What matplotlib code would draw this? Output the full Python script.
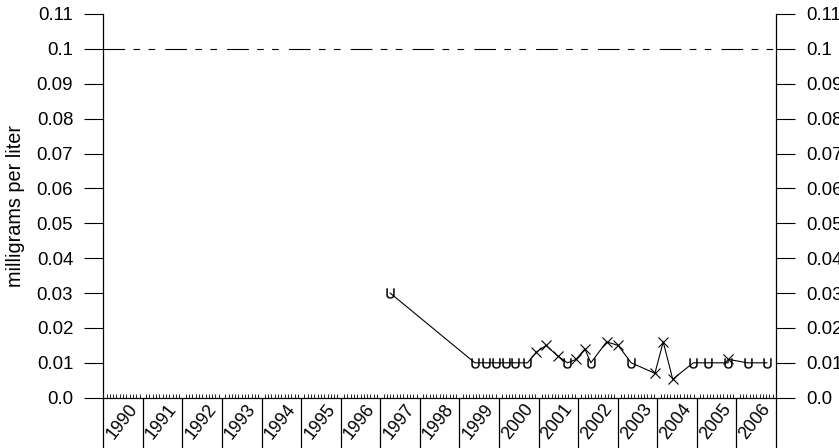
import matplotlib
matplotlib.use('Agg')
import matplotlib.pyplot as plt
import numpy as np
from matplotlib.ticker import FixedLocator

plt.rcParams['font.family'] = ['Liberation Sans', 'DejaVu Sans']
plt.rcParams['mathtext.fontset'] = 'custom'
plt.rcParams['mathtext.sf'] = 'Liberation Sans'
plt.rcParams['mathtext.rm'] = 'Liberation Sans'
plt.rcParams['lines.scale_dashes'] = False

# ---- data (decimal years, milligrams per liter) ----
sample_dates = [1997.25, 1999.39, 1999.66, 1999.92, 2000.17, 2000.40, 2000.72,
                2000.94, 2001.19, 2001.48, 2001.73, 2001.95, 2002.17, 2002.32,
                2002.72, 2003.01, 2003.34, 2003.94, 2004.15, 2004.39, 2004.91,
                2005.29, 2005.79, 2005.79, 2006.28, 2006.77]
concentrations = [0.03, 0.01, 0.01, 0.01, 0.01, 0.01, 0.01,
                  0.013, 0.015, 0.012, 0.01, 0.011, 0.014, 0.01,
                  0.016, 0.015, 0.01, 0.007, 0.016, 0.0053, 0.01,
                  0.01, 0.01, 0.011, 0.01, 0.01]
remark_codes = ['U', 'U', 'U', 'U', 'U', 'U', 'U',
                '', '', '', 'U', '', '', 'U',
                '', '', 'U', '', '', '', 'U',
                'U', 'U', '', 'U', 'U']
reference_level = 0.1
year_labels = [str(y) for y in range(1990, 2007)]
y_ticks = [0.0, 0.01, 0.02, 0.03, 0.04, 0.05, 0.06, 0.07, 0.08, 0.09, 0.1, 0.11]
y_tick_labels = ['0.0', '0.01', '0.02', '0.03', '0.04', '0.05', '0.06',
                 '0.07', '0.08', '0.09', '0.1', '0.11']
y_label = 'milligrams per liter'

# ---- figure ----
fig = plt.figure(figsize=(8.39, 4.48), dpi=100)
ax = fig.add_axes([103.3 / 839, 50.3 / 448, 672.7 / 839, 383.7 / 448])

dates = np.array(sample_dates)
vals = np.array(concentrations)
codes = np.array(remark_codes)

ax.plot(dates, vals, color='black', lw=0.8, zorder=2)
cens = codes == 'U'
ax.plot(dates[cens], vals[cens], linestyle='none', marker=r'$\mathsf{U}$',
        markersize=7.2, markerfacecolor='black', markeredgecolor='black',
        markeredgewidth=0.2, zorder=3)
ax.plot(dates[~cens], vals[~cens], linestyle='none', marker='x',
        markersize=7.2, markeredgecolor='black', markeredgewidth=0.8, zorder=3)

ref = ax.axhline(reference_level, color='black', lw=0.8, zorder=1)
ref.set_dashes([15.6, 6.0, 4.8, 6.0, 4.8, 7.3])

first_year = int(year_labels[0])
last_year = int(year_labels[-1]) + 1
ax.set_xlim(first_year, last_year)
ax.set_ylim(y_ticks[0], y_ticks[-1])

ax.set_xticks(np.arange(first_year, last_year + 1))
ax.set_xticklabels([])
ax.xaxis.set_minor_locator(FixedLocator(
    np.arange(first_year * 12, last_year * 12 + 1) / 12.0))
ax.tick_params(axis='x', which='major', direction='out', length=37,
               width=0.9, color='black')
ax.tick_params(axis='x', which='minor', direction='in', length=3,
               width=0.6, color='black')

for i, lab in enumerate(year_labels):
    ax.text(first_year + i + 0.47, -0.063, lab, transform=ax.get_xaxis_transform(),
            rotation=52, ha='center', va='center', fontsize=12.8)

ax.set_yticks(y_ticks)
ax.set_yticklabels(y_tick_labels)
ax.tick_params(axis='y', which='major', direction='out', length=13.7,
               width=0.8, pad=8.0, labelsize=13.4, left=True, right=True,
               labelleft=True, labelright=True)

for s in ['left', 'right', 'bottom']:
    ax.spines[s].set_linewidth(0.9)
ax.spines['top'].set_visible(False)

ax.set_ylabel(y_label, fontsize=14.3)
ax.yaxis.set_label_coords(-0.117, 0.5)

fig.savefig('out.png', dpi=100)
